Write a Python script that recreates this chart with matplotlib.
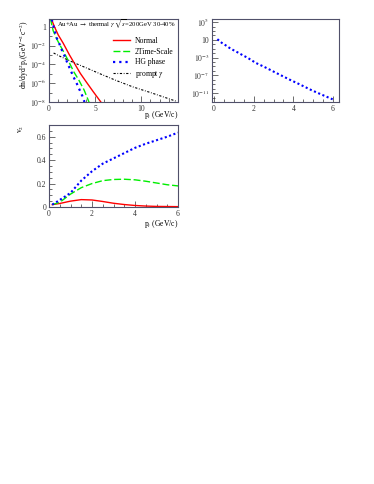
import numpy as np
import matplotlib
matplotlib.use("Agg")
from matplotlib import pyplot as plt
from matplotlib.ticker import FixedLocator, FuncFormatter, MultipleLocator, NullFormatter

plt.rcParams['font.family'] = ['Liberation Serif', 'DejaVu Serif']
plt.rcParams['mathtext.fontset'] = 'stix'

# --- spectra (top left), log10 of dn/dyd2pt ---
pt_norm = [0.25, 0.6, 1.0, 1.55, 2.2, 2.8, 3.4, 4.0, 4.8, 5.65]
lg_norm = [0.85, 0.0, -0.85, -1.75, -2.95, -3.95, -4.95, -5.8, -6.9, -8.03]
pt_2ts = [0.15, 0.45, 0.9, 1.5, 2.1, 2.7, 3.2, 3.8, 4.35]
lg_2ts = [0.9, -0.4, -1.4, -2.5, -3.6, -4.8, -5.6, -6.7, -8.03]
pt_hg = [0.3, 0.65, 0.84, 1.12, 1.38, 1.74, 2.03, 2.36, 2.64, 3.0, 3.29, 3.62, 3.85]
lg_hg = [0.8, -0.54, -1.18, -1.79, -2.43, -3.21, -3.93, -4.65, -5.29, -6.0, -6.64, -7.36, -8.0]
pt_prompt = [0.5, 1.34, 2.61, 4.06, 5.51, 7.32, 9.13, 10.94, 12.75, 13.84]
lg_prompt = [-2.78, -3.2, -3.77, -4.37, -4.98, -5.72, -6.4, -6.97, -7.57, -7.93]

# --- top right, single spectrum ---
pt_r = [0.17, 0.39, 0.6, 0.82, 1.03, 1.25, 1.46, 1.68, 2.11, 2.54, 3.18, 3.83, 4.26, 4.9, 5.33, 5.98]
lg_r = [1.15, 0.33, -0.26, -0.93, -1.44, -1.96, -2.5, -3.0, -4.2, -5.1, -6.55, -8.0, -8.9, -10.3, -11.15, -12.4]

# --- v2 (bottom left) ---
pt_v2 = [0.15, 0.5, 1.0, 1.5, 2.0, 2.5, 3.0, 3.5, 4.0, 4.5, 5.0, 5.5, 6.0]
v2_norm = [0.02, 0.03, 0.05, 0.063, 0.06, 0.047, 0.032, 0.021, 0.013, 0.008, 0.005, 0.004, 0.003]
v2_2ts = [0.02, 0.04, 0.11, 0.165, 0.2, 0.225, 0.235, 0.237, 0.232, 0.22, 0.205, 0.19, 0.18]
v2_hg = [0.02, 0.06, 0.12, 0.225, 0.305, 0.37, 0.415, 0.46, 0.505, 0.54, 0.57, 0.6, 0.635]

W, H = 374, 484
fig = plt.figure(figsize=(W / 100, H / 100), dpi=100)

def box(l, t, r, b):
    return [l / W, 1 - b / H, (r - l) / W, (b - t) / H]

fs = 5.5
frame = '#50506a'

def style(ax):
    for s in ax.spines.values():
        s.set_color(frame)
        s.set_linewidth(0.8)
    ax.tick_params(which='both', direction='in', top=False, right=False,
                   labelsize=fs, colors='#333333', pad=2)
    ax.tick_params(which='major', length=4, width=0.5)
    ax.tick_params(which='minor', length=2, width=0.5)
    ax.xaxis.set_minor_formatter(NullFormatter())
    ax.yaxis.set_minor_formatter(NullFormatter())

def logfmt(v, pos):
    e = int(round(np.log10(v)))
    if e == 0:
        return '1'
    if e == 1:
        return '10'
    return r'$10^{%d}$' % e

# top left
ax1 = fig.add_axes(box(49, 19, 178, 102))
ax1.plot(pt_norm, 10 ** np.array(lg_norm), color='red', lw=1.0, label='Normal')
ax1.plot(pt_2ts, 10 ** np.array(lg_2ts), color='#00ee00', lw=1.0, dashes=(5, 2), label='2Time-Scale')
ax1.plot(pt_hg, 10 ** np.array(lg_hg), color='blue', lw=1.6, dashes=(1, 1.8), label='HG phase')
ax1.plot(pt_prompt, 10 ** np.array(lg_prompt), color='black', lw=0.8, dashes=(2, 1.5, 0.7, 1.5), label=r'prompt $\gamma$')
ax1.set_yscale('log')
ax1.set_xlim(0, 14)
ax1.set_ylim(1e-8, 7)
ax1.yaxis.set_major_locator(FixedLocator([1e-8, 1e-6, 1e-4, 1e-2, 1]))
ax1.yaxis.set_minor_locator(FixedLocator([10.0 ** k for k in range(-8, 1)]))
ax1.yaxis.set_major_formatter(FuncFormatter(logfmt))
ax1.xaxis.set_major_locator(FixedLocator([0, 5, 10]))
ax1.xaxis.set_minor_locator(MultipleLocator(1))
style(ax1)
ax1.text(0.065, 0.93, r'Au+Au $\rightarrow$ thermal $\gamma$ $\sqrt{s}$=200GeV 30-40%',
         transform=ax1.transAxes, fontsize=4.8, va='center')
ax1.legend(loc='upper right', bbox_to_anchor=(1.0, 0.84), fontsize=fs, frameon=False,
           handlelength=2.2, handletextpad=0.6, labelspacing=0.35, borderaxespad=0.2)
ax1.set_ylabel(r'dn/dyd$^2$p$_t$(GeV$^{-2}$c$^{-2}$)', fontsize=fs, ha='right')
ax1.yaxis.set_label_coords(-0.14, 0.98)
ax1.set_xlabel(r'p$_t$ (GeV/c)', fontsize=fs, ha='right')
ax1.xaxis.set_label_coords(1.0, -0.09)

# top right
ax2 = fig.add_axes(box(212, 19, 339, 102))
ax2.plot(pt_r, 10 ** np.array(lg_r), color='blue', lw=1.5, dashes=(1, 1.2))
ax2.set_yscale('log')
ax2.set_xlim(-0.1, 6.3)
ax2.set_ylim(1e-13, 5e5)
ax2.yaxis.set_major_locator(FixedLocator([1e-11, 1e-7, 1e-3, 10, 1e5]))
ax2.yaxis.set_minor_locator(FixedLocator([10.0 ** k for k in range(-13, 6)]))
ax2.yaxis.set_major_formatter(FuncFormatter(logfmt))
ax2.xaxis.set_major_locator(FixedLocator([0, 2, 4, 6]))
ax2.xaxis.set_minor_locator(MultipleLocator(0.5))
style(ax2)

# bottom left
ax3 = fig.add_axes(box(49, 125, 178, 207))
ax3.plot(pt_v2, v2_norm, color='red', lw=1.0)
ax3.plot(pt_v2, v2_2ts, color='#00ee00', lw=1.0, dashes=(5, 2))
ax3.plot(pt_v2, v2_hg, color='blue', lw=1.5, dashes=(1, 1.2))
ax3.set_xlim(0, 6)
ax3.set_ylim(0, 0.7)
ax3.xaxis.set_major_locator(FixedLocator([0, 2, 4, 6]))
ax3.xaxis.set_minor_locator(MultipleLocator(0.5))
ax3.yaxis.set_major_locator(FixedLocator([0, 0.2, 0.4, 0.6]))
ax3.yaxis.set_minor_locator(MultipleLocator(0.05))
ax3.yaxis.set_major_formatter(FuncFormatter(lambda v, p: '0' if v == 0 else '%.1f' % v))
style(ax3)
ax3.set_ylabel(r'v$_2$', fontsize=fs, ha='right')
ax3.yaxis.set_label_coords(-0.175, 1.0)
ax3.set_xlabel(r'p$_t$ (GeV/c)', fontsize=fs, ha='right')
ax3.xaxis.set_label_coords(1.0, -0.13)

fig.savefig('out.png', dpi=100)
